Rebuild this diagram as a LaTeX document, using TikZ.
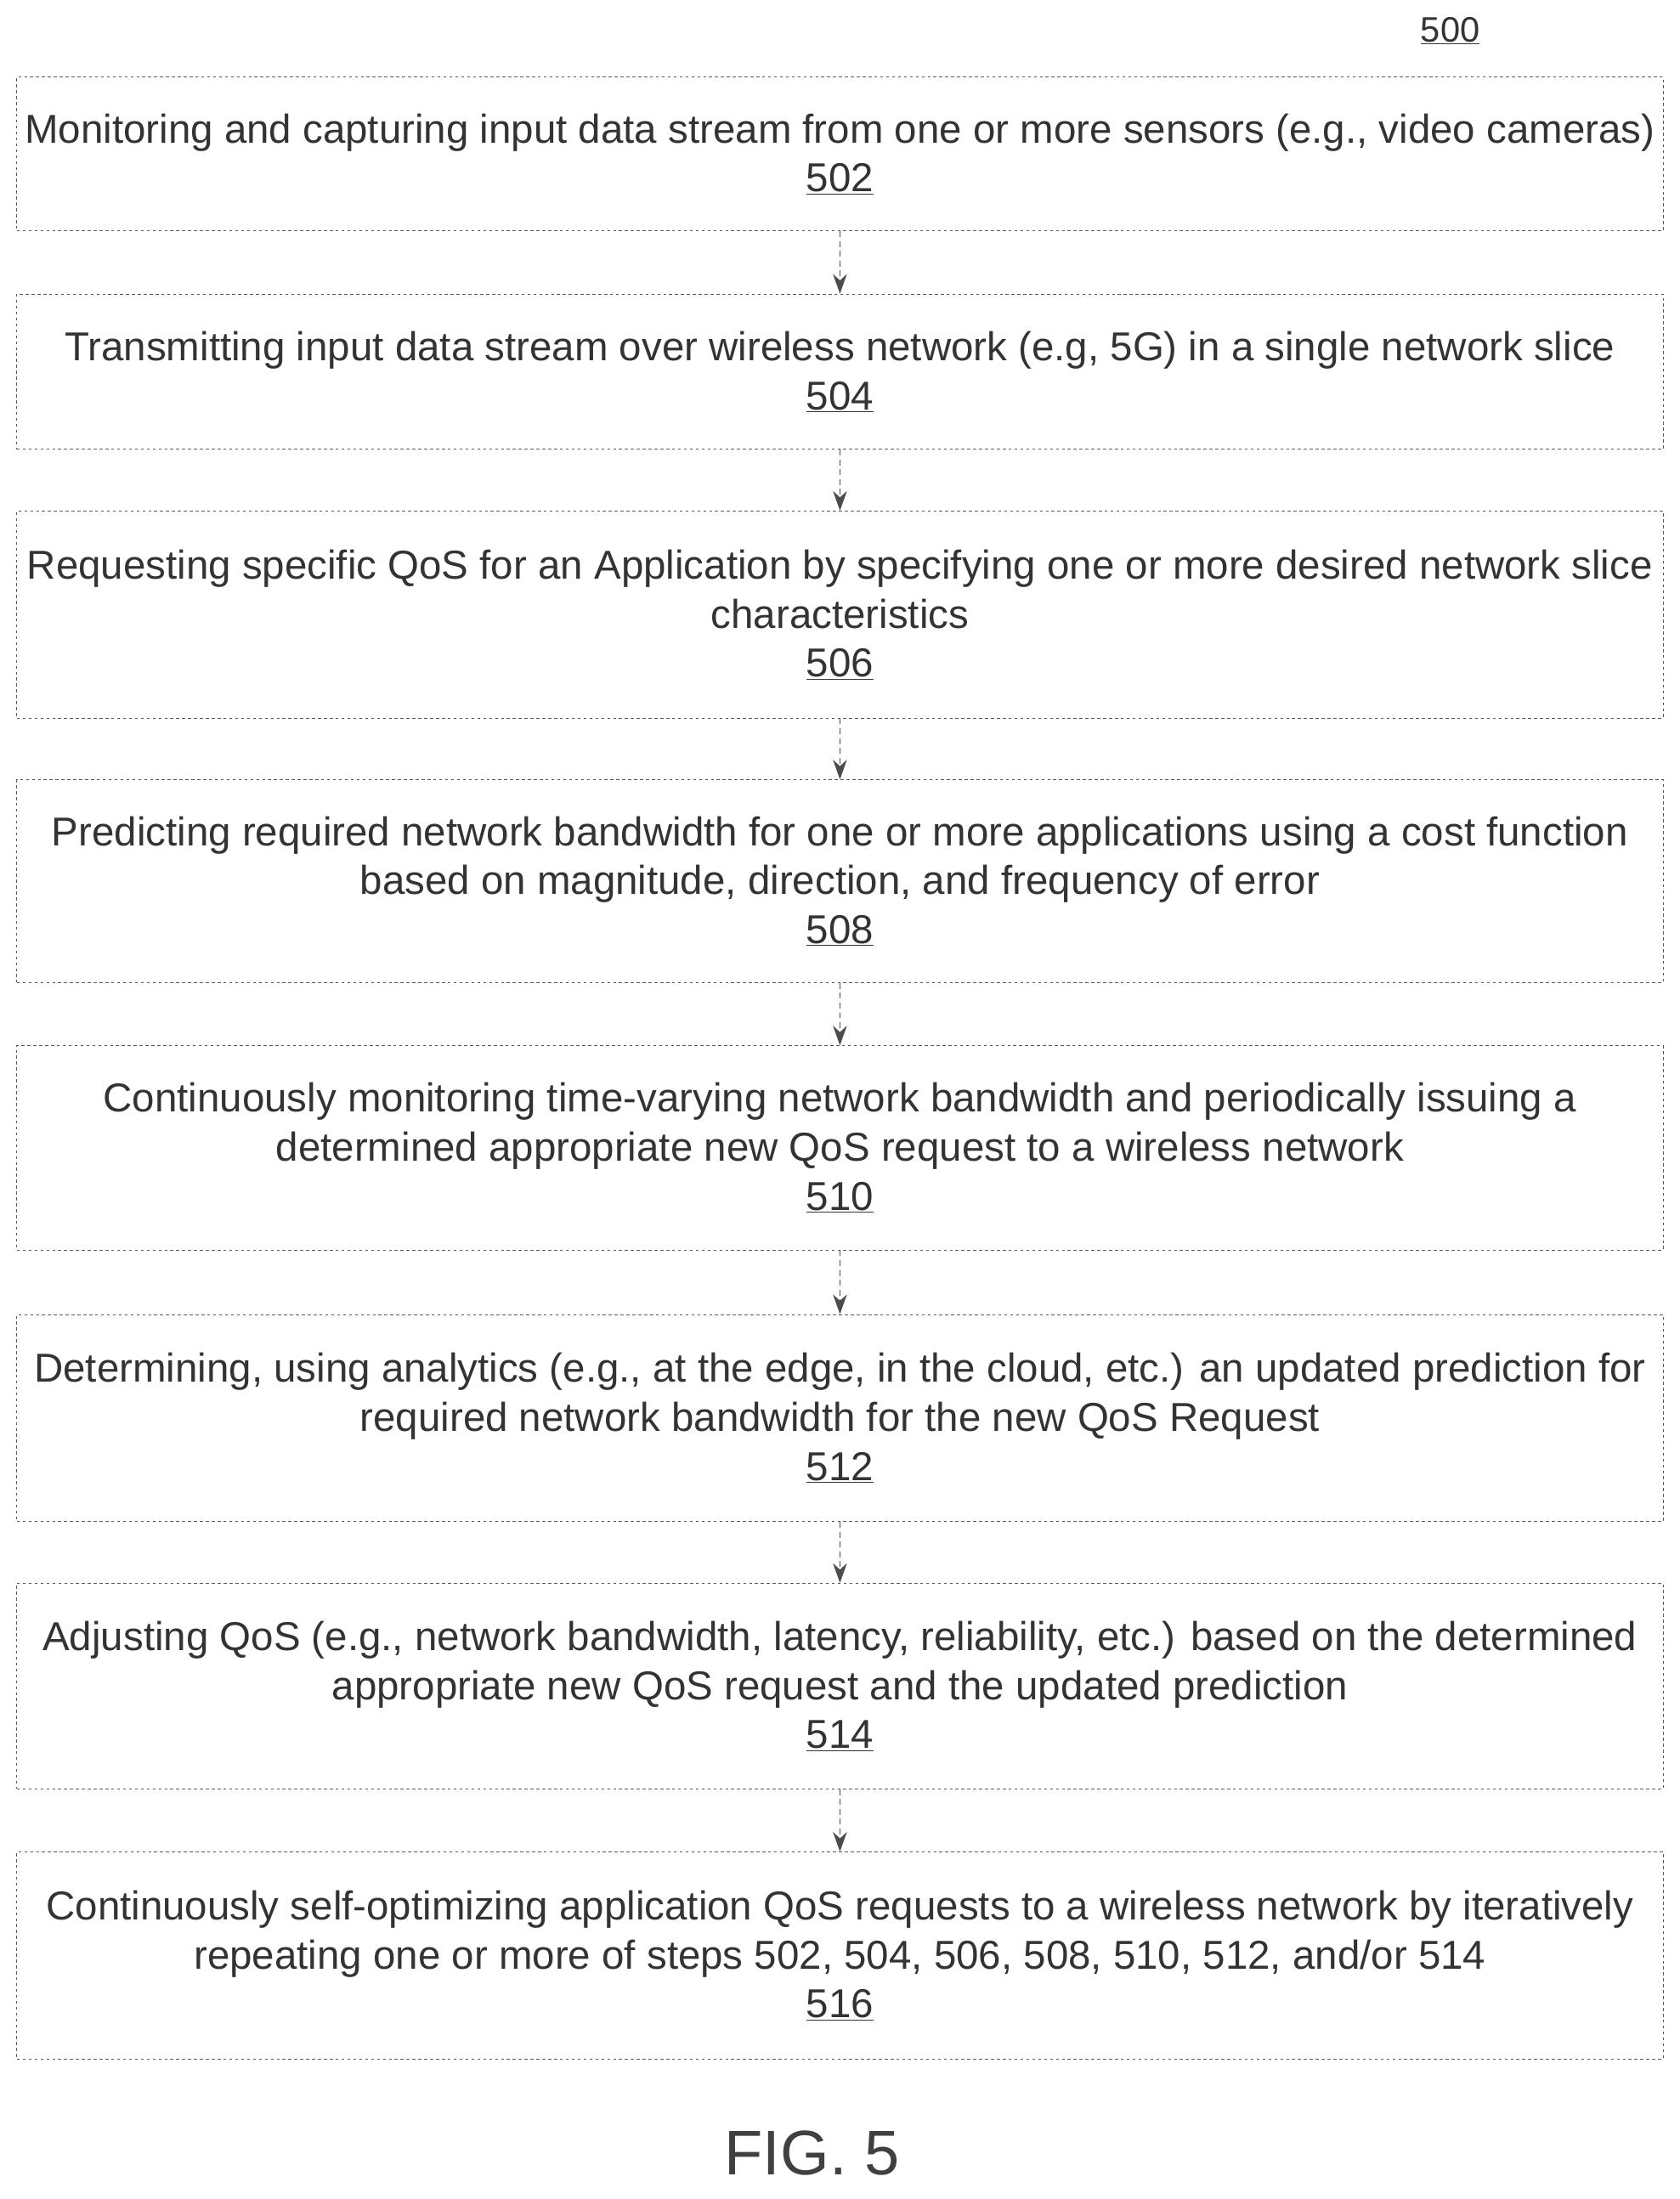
\documentclass[tikz,border=0pt]{standalone}
\usepackage{fontspec}
\setmainfont{Liberation Sans}
\usetikzlibrary{arrows.meta}
\tikzset{
  stepbox/.style={draw=black!65, dashed, line width=0.6pt, text=black!80, align=center,
    minimum width=58.8cm, inner sep=0pt,
    font=\fontsize{41}{49.8}\selectfont},
  flow/.style={draw=black!70, dash pattern=on 6pt off 4pt, line width=1.2pt,
    -{Stealth[length=0.7cm,width=0.5cm]}},
}
\newcommand{\stepnum}[1]{\underline{#1}}
\begin{document}
\begin{tikzpicture}[x=0.05cm,y=-0.05cm]
	\useasboundingbox (0,0) rectangle (1200,1571);
	\node[text=black!80, font=\fontsize{36}{40}\selectfont] (fig) at (1036,22) {\stepnum{500}};
	\node[stepbox, minimum height=5.5cm] (s502) at (600,110) {Monitoring and capturing input data stream from one or more sensors (e.g., video cameras)\\ \stepnum{502}};
	\node[stepbox, minimum height=5.55cm] (s504) at (600,265.5) {Transmitting input data stream over wireless network (e.g, 5G) in a single network slice\\ \stepnum{504}};
	\node[stepbox, minimum height=7.4cm] (s506) at (600,439) {Requesting specific QoS for an Application by specifying one or more desired network slice\\ characteristics\\ \stepnum{506}};
	\node[stepbox, minimum height=7.25cm] (s508) at (600,629.5) {Predicting required network bandwidth for one or more applications using a cost function\\ based on magnitude, direction, and frequency of error\\ \stepnum{508}};
	\node[stepbox, minimum height=7.3cm] (s510) at (600,820) {Continuously monitoring time-varying network bandwidth and periodically issuing a\\ determined appropriate new QoS request to a wireless network\\ \stepnum{510}};
	\node[stepbox, minimum height=7.4cm] (s512) at (600,1013) {Determining, using analytics (e.g., at the edge, in the cloud, etc.) an updated prediction for\\ required network bandwidth for the new QoS Request\\ \stepnum{512}};
	\node[stepbox, minimum height=7.35cm] (s514) at (600,1204.5) {Adjusting QoS (e.g., network bandwidth, latency, reliability, etc.) based on the determined\\ appropriate new QoS request and the updated prediction\\ \stepnum{514}};
	\node[stepbox, minimum height=7.4cm] (s516) at (600,1397) {Continuously self-optimizing application QoS requests to a wireless network by iteratively\\ repeating one or more of steps 502, 504, 506, 508, 510, 512, and/or 514\\ \stepnum{516}};
	\node[text=black!75, font=\fontsize{64}{70}\selectfont] (cap) at (580,1538) {FIG. 5};
	\foreach \a/\b in {s502/s504,s504/s506,s506/s508,s508/s510,s510/s512,s512/s514,s514/s516}
	  \draw[flow] (\a.south) -- (\b.north);
\end{tikzpicture}
\end{document}
